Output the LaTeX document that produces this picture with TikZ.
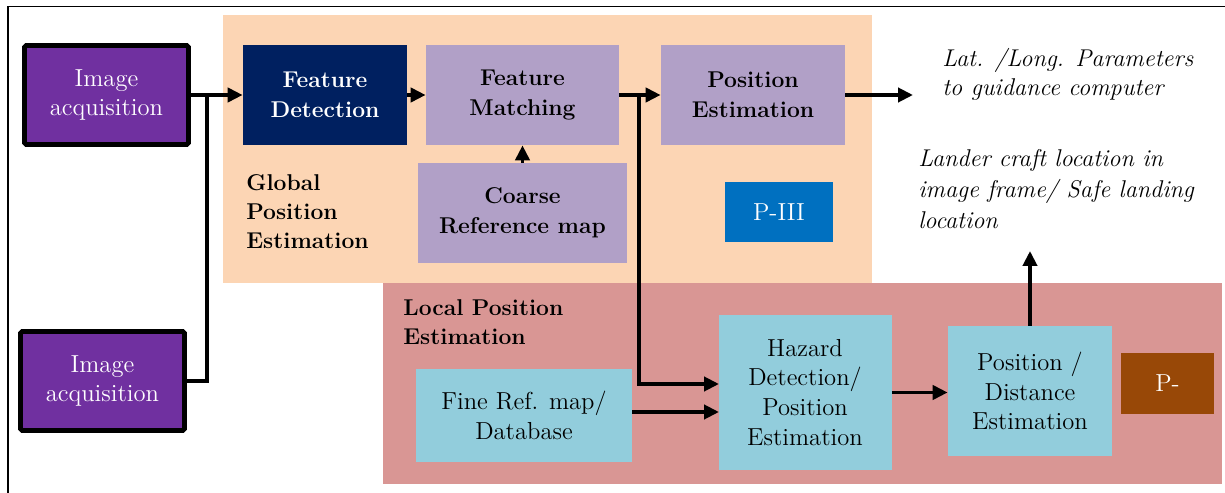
\documentclass[tikz,border=0pt]{standalone}
\usetikzlibrary{arrows.meta}
\definecolor{purp}{HTML}{7030A0}
\definecolor{navy}{HTML}{002060}
\definecolor{lav}{HTML}{B1A0C7}
\definecolor{peach}{HTML}{FCD5B4}
\definecolor{rose}{HTML}{D99694}
\definecolor{lblue}{HTML}{92CDDC}
\definecolor{pblue}{HTML}{0070C0}
\definecolor{brown}{HTML}{984807}
\tikzset{
  box/.style={rectangle, inner sep=0pt, align=center, font=\fontsize{14}{17}\selectfont},
  acq/.style={box, fill=purp, draw=black, line width=2.8pt, text=white, rounded corners=1pt},
  dark/.style={box, fill=navy, text=white, font=\fontsize{13}{17}\selectfont\bfseries},
  lavbox/.style={box, fill=lav, text=black, font=\fontsize{13}{17}\selectfont\bfseries},
  bluebox/.style={box, fill=lblue, text=black},
  tag/.style={box, text=white},
  lbl/.style={align=left, inner sep=0pt, anchor=north west, font=\fontsize{13}{16.5}\selectfont\bfseries},
  itl/.style={align=left, inner sep=0pt, anchor=north west, font=\fontsize{13.8}{16.5}\selectfont\itshape},
  conn/.style={line width=2.1pt},
  arr/.style={conn, -{Triangle[length=8.5pt,width=8pt]}}
}
\begin{document}
\begin{tikzpicture}[x=0.02cm, y=-0.02cm]
\useasboundingbox (0,0) rectangle (1225,493);
% frame
\draw[line width=0.8pt] (8,493) -- (8,6.5) -- (1225,6.5);
% regions
\fill[peach] (223,15) rectangle (872,283);
\fill[rose] (383,283) rectangle (1222,484);
% nodes
\node[acq, minimum width=164*0.02cm, minimum height=99*0.02cm] (ia1) at (106.5,95) {Image\\acquisition};
\node[acq, minimum width=164*0.02cm, minimum height=99*0.02cm] (ia2) at (102.5,381) {Image\\acquisition};
\node[dark, minimum width=164*0.02cm, minimum height=100*0.02cm] (fd) at (325,95) {Feature\\Detection};
\node[lavbox, minimum width=193*0.02cm, minimum height=100*0.02cm] (fm) at (522.5,95) {Feature\\Matching};
\node[lavbox, minimum width=184*0.02cm, minimum height=100*0.02cm] (pe) at (753,95) {Position\\Estimation};
\node[lavbox, minimum width=209*0.02cm, minimum height=100*0.02cm] (cr) at (522.5,213) {Coarse\\Reference map};
\node[tag, fill=pblue, minimum width=108*0.02cm, minimum height=60*0.02cm] (p3) at (779,212) {P-III};
\node[bluebox, minimum width=216*0.02cm, minimum height=93*0.02cm] (fine) at (524,415.5) {Fine Ref. map/\\Database};
\node[bluebox, minimum width=173*0.02cm, minimum height=155*0.02cm] (hz) at (805,392.5) {Hazard\\Detection/\\Position\\Estimation};
\node[bluebox, minimum width=164*0.02cm, minimum height=130*0.02cm] (pd) at (1030,391) {Position /\\Distance\\Estimation};
\node[tag, fill=brown, minimum width=93*0.02cm, minimum height=61*0.02cm] (pm) at (1167.5,383.5) {P-};
% labels
\node[lbl] (glbl) at (246,174) {Global\\Position\\Estimation};
\node[lbl] (llbl) at (403,299) {Local Position\\Estimation};
\node[itl] (out1txt) at (942,48) {Lat. /Long. Parameters\\to guidance computer};
\node[itl, font=\fontsize{13.8}{17.6}\selectfont\itshape] (out2txt) at (918,149) {Lander craft location in\\image frame/ Safe landing\\location};
% coordinates
\coordinate (j1) at (207,95);
\coordinate (j2) at (639,95);
\coordinate (o1) at (913,95);
\coordinate (o2) at (1030,251);
\coordinate (h1) at (719,384);
\coordinate (f1) at (632,412);
\coordinate (h2) at (719,412);
% connectors
\draw[arr] (ia1.east) -- (fd.west);
\draw[conn] (ia2.east) -| (j1);
\draw[arr] (fd.east) -- (fm.west);
\draw[arr] (cr.north) -- (fm.south);
\draw[arr] (fm.east) -- (pe.west);
\draw[arr] (j2) |- (h1);
\draw[arr] (f1) -- (h2);
\draw[arr] (pe.east) -- (o1);
\draw[arr] (hz.east) -- (hz.east -| pd.west);
\draw[arr] (pd.north) -- (o2);
\end{tikzpicture}
\end{document}
